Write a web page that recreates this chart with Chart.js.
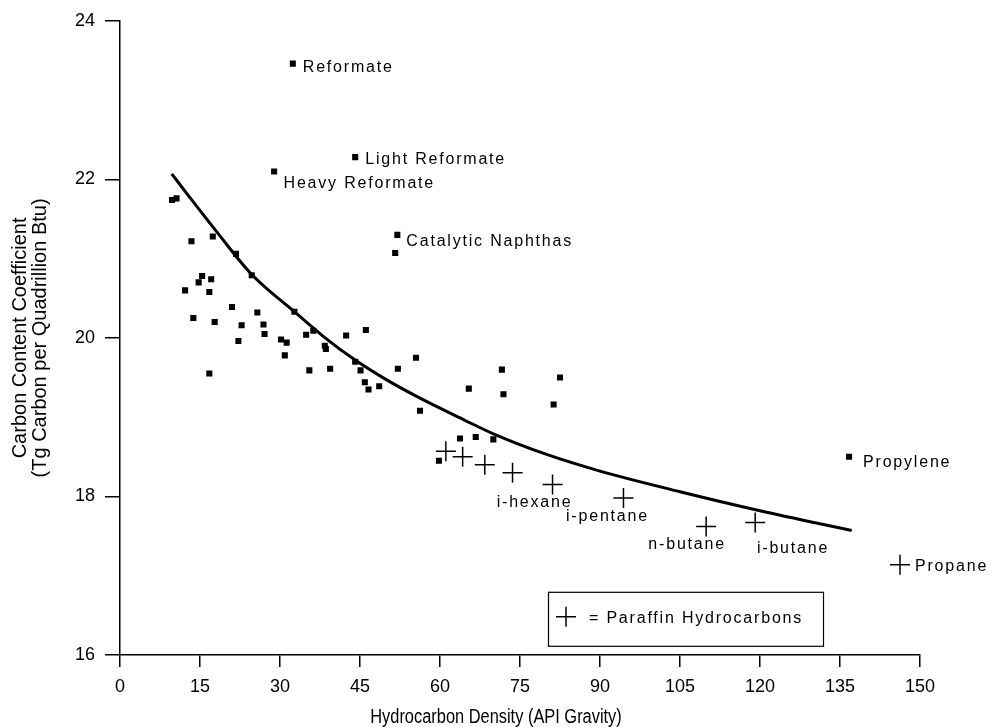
<!DOCTYPE html>
<html><head><meta charset="utf-8">
<script src="https://cdn.jsdelivr.net/npm/chart.js@4.4.1/dist/chart.umd.min.js"></script>
<style>html,body{margin:0;padding:0;background:#fff}#wrap{width:995px;height:727px}</style>
</head><body><div id="wrap"><canvas id="c" width="995" height="727"></canvas></div>
<script>
// ---- data ----
const xTickValues = [0, 15, 30, 45, 60, 75, 90, 105, 120, 135, 150];
const yTickValues = [16, 18, 20, 22, 24];

const namedProductLabels = ['Reformate', 'Light Reformate', 'Heavy Reformate', 'Catalytic Naphthas', 'Propylene'];
const namedProductApi    = [32.4, 44.1, 28.9, 52.0, 136.7];
const namedProductCarbon = [23.46, 22.28, 22.10, 21.30, 18.50];

const otherProductApi = [9.75, 10.6, 13.4, 17.4, 21.75, 24.7, 15.4, 14.75, 17.1, 12.2, 16.75, 21.0, 25.75, 32.7,
  13.75, 17.75, 22.8, 26.9, 27.1, 36.25, 34.9, 42.4, 22.2, 30.2, 31.25, 38.4, 38.6, 30.9, 35.5, 39.4, 16.75,
  46.1, 44.1, 45.1, 45.9, 46.6, 48.6, 52.1, 55.5, 56.25, 51.6, 71.6, 82.5, 65.4, 71.9, 81.3, 63.75, 66.7, 70.0, 59.8];
const otherProductCarbon = [21.74, 21.76, 21.22, 21.28, 21.06, 20.79, 20.78, 20.70, 20.74, 20.60, 20.58, 20.39, 20.32, 20.33,
  20.25, 20.20, 20.16, 20.17, 20.05, 20.09, 20.04, 20.03, 19.96, 19.98, 19.94, 19.90, 19.86, 19.78, 19.59, 19.61, 19.55,
  20.10, 19.70, 19.59, 19.44, 19.35, 19.39, 19.61, 19.75, 19.08, 21.07, 19.60, 19.50, 19.36, 19.29, 19.16, 18.73, 18.75, 18.72, 18.45];

const paraffinLabels = ['', '', '', '', 'i-hexane', 'i-pentane', 'n-butane', 'i-butane', 'Propane'];
const paraffinApi    = [61.1, 64.25, 68.4, 73.6, 81.1, 94.4, 109.9, 119.1, 146.25];
const paraffinCarbon = [18.57, 18.50, 18.40, 18.30, 18.15, 17.98, 17.62, 17.67, 17.14];

const fitCurveApi    = [9.7, 13, 18, 24.7, 32.7, 38.1, 44.1, 50, 56.25, 64.4, 70, 80, 90, 105, 120, 137.2];
const fitCurveCarbon = [22.07, 21.78, 21.35, 20.80, 20.33, 20.02, 19.72, 19.47, 19.24, 18.97, 18.79, 18.53, 18.32, 18.06, 17.82, 17.57];

const xTitle = 'Hydrocarbon Density (API Gravity)';
const yTitle = ['Carbon Content Coefficient', '(Tg Carbon per Quadrillion Btu)'];
const legendText = '= Paraffin Hydrocarbons';

// ---- build ----
const zip = (xs, ys) => xs.map((x, i) => ({x, y: ys[i]}));
const labelFont = '16px "Liberation Sans", Arial, sans-serif';
const titleFamily = '"Liberation Sans", Arial, sans-serif';

// label offsets (style): [dx, dy, align]
const namedOffsets = [[10, 8.6, 'left'], [10, 6.7, 'left'], [9.4, 16.7, 'left'], [9, 11.6, 'left'], [14, 10, 'left']];
const paraffinOffsets = [null, null, null, null, [-18, 22.7, 'center'], [-16, 22.7, 'center'], [-19, 22.3, 'center'], [1.7, 30.7, 'left'], [15, 6, 'left']];

const labelPlugin = {
  id: 'labels',
  afterDatasetsDraw(chart) {
    const ctx = chart.ctx, xs = chart.scales.x, ys = chart.scales.y, ca = chart.chartArea;
    ctx.save();
    ctx.fillStyle = '#000';
    ctx.font = labelFont;
    ctx.textBaseline = 'alphabetic';
    try { ctx.letterSpacing = '1.8px'; } catch (e) {}
    const put = (txt, x, y, off) => {
      if (!txt || !off) return;
      const px = xs.getPixelForValue(x) + off[0];
      const py = ys.getPixelForValue(y) + off[1];
      ctx.textAlign = off[2];
      ctx.fillText(txt, px, py);
    };
    namedProductLabels.forEach((t, i) => put(t, namedProductApi[i], namedProductCarbon[i], namedOffsets[i]));
    paraffinLabels.forEach((t, i) => put(t, paraffinApi[i], paraffinCarbon[i], paraffinOffsets[i]));

    // legend box
    const bx = ca.left + 428, by = ca.top + 571, bw = 275, bh = 54;
    ctx.strokeStyle = '#000';
    ctx.lineWidth = 1.2;
    ctx.strokeRect(bx + 0.5, by + 0.5, bw, bh);
    const cx = bx + 18, cy = by + 25;
    ctx.lineWidth = 1.5;
    ctx.beginPath();
    ctx.moveTo(cx - 10, cy); ctx.lineTo(cx + 10, cy);
    ctx.moveTo(cx, cy - 10); ctx.lineTo(cx, cy + 10);
    ctx.stroke();
    ctx.textAlign = 'left';
    ctx.fillText(legendText, bx + 41, cy + 6);
    ctx.restore();

    // x-axis title, condensed like the reference
    ctx.save();
    try { ctx.letterSpacing = '0px'; } catch (e) {}
    ctx.fillStyle = '#000';
    ctx.font = '20px ' + titleFamily;
    ctx.textAlign = 'center';
    ctx.textBaseline = 'middle';
    ctx.translate(ca.left + 376, ca.bottom + 62);
    ctx.scale(0.82, 1);
    ctx.fillText(xTitle, 0, 0);
    ctx.restore();
  }
};

new Chart(document.getElementById('c'), {
  type: 'scatter',
  data: {
    datasets: [
      {
        type: 'line', data: zip(fitCurveApi, fitCurveCarbon), showLine: true,
        borderColor: '#000', borderWidth: 3, pointRadius: 0, cubicInterpolationMode: 'monotone', fill: false
      },
      {
        data: zip(otherProductApi, otherProductCarbon).concat(zip(namedProductApi, namedProductCarbon)),
        pointStyle: 'rect', pointRadius: 4.3, backgroundColor: '#000', borderColor: '#000', borderWidth: 0
      },
      {
        data: zip(paraffinApi, paraffinCarbon),
        pointStyle: 'cross', pointRadius: 10, borderColor: '#000', borderWidth: 1.5, backgroundColor: '#000'
      }
    ]
  },
  options: {
    responsive: false, animation: false, devicePixelRatio: 1,
    layout: { padding: { top: 18, right: 75, left: 0, bottom: 0 } },
    plugins: { legend: { display: false }, tooltip: { enabled: false } },
    scales: {
      x: {
        type: 'linear', min: 0, max: 150,
        afterBuildTicks: s => { s.ticks = xTickValues.map(v => ({value: v})); },
        afterFit: s => { s.height = 72; },
        grid: { drawOnChartArea: false, drawTicks: true, tickLength: 12, color: '#000', lineWidth: 1.5 },
        border: { display: true, color: '#000', width: 1.5 },
        ticks: { color: '#000', padding: 9, maxRotation: 0, autoSkip: false, font: { family: '"Liberation Sans", Arial, sans-serif', size: 18 } },
        title: { display: false, text: xTitle }
      },
      y: {
        type: 'linear', min: 16, max: 24,
        afterBuildTicks: s => { s.ticks = yTickValues.map(v => ({value: v})); },
        afterFit: s => { s.width = 120; },
        grid: { drawOnChartArea: false, drawTicks: true, tickLength: 15, color: '#000', lineWidth: 1.5 },
        border: { display: true, color: '#000', width: 1.5 },
        ticks: { color: '#000', padding: 10, autoSkip: false, font: { family: '"Liberation Sans", Arial, sans-serif', size: 18 } },
        title: { display: true, text: yTitle, color: '#000', padding: { top: 10, bottom: 0 }, font: { family: titleFamily, size: 20, lineHeight: 1 } }
      }
    }
  },
  plugins: [labelPlugin]
});
</script></body></html>
